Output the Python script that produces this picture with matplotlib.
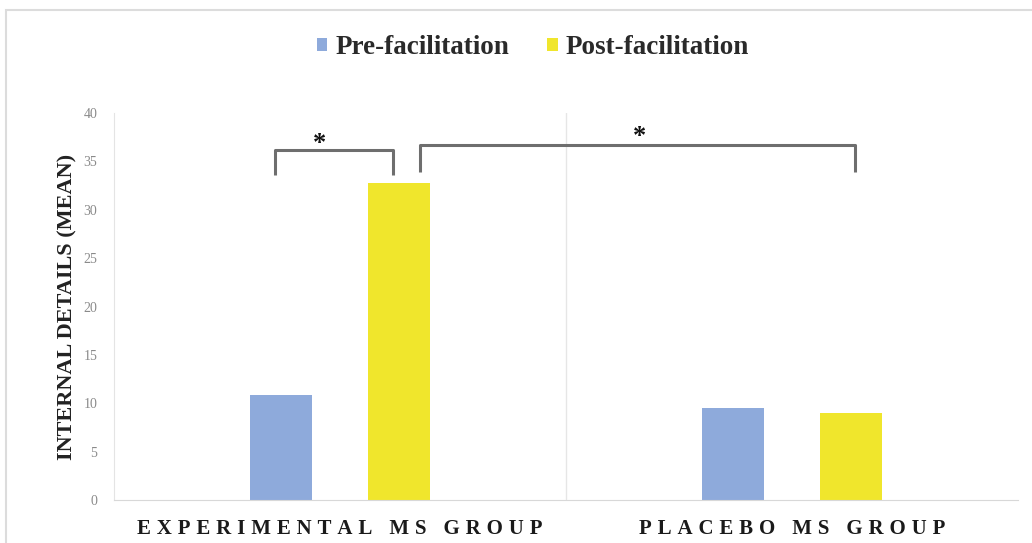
import numpy as np
import matplotlib.pyplot as plt
from matplotlib.patches import Rectangle

groups = ['EXPERIMENTAL MS GROUP', 'PLACEBO MS GROUP']
series = ['Pre-facilitation', 'Post-facilitation']
pre_vals = [10.9, 9.5]
post_vals = [32.8, 9.0]
yticks = [0, 5, 10, 15, 20, 25, 30, 35, 40]

blue = '#8eaadb'
yellow = '#f0e62c'

plt.rcParams['font.family'] = ['Liberation Serif', 'DejaVu Serif']

fig = plt.figure(figsize=(10.32, 5.43), dpi=100)
ax = fig.add_axes([114/1032, 1-500/543, (1018-114)/1032, (500-113)/543])

x = np.arange(len(groups))
off = 0.13
w = 0.137
ax.bar(x - off, pre_vals, w, color=blue, label=series[0])
ax.bar(x + off, post_vals, w, color=yellow, label=series[1])

ax.set_xlim(-0.5, 1.5)
ax.set_ylim(0, 40)
ax.set_yticks(yticks)
ax.tick_params(axis='y', length=0, labelsize=10, labelcolor='#8a8a8a', pad=12)
ax.tick_params(axis='x', length=0, pad=14)
ax.set_xticks(x)
spaced = ['\u2009\u200a'.join(g) for g in groups]
ax.set_xticklabels(spaced, fontsize=15, fontweight='bold', color='#1a1a1a')
for s in ['top', 'right']:
    ax.spines[s].set_visible(False)
ax.spines['left'].set_color('#e4e4e4')
ax.spines['bottom'].set_color('#d8d8d8')
ax.axvline(0.5, color='#e6e6e6', lw=1)

ax.set_ylabel('INTERNAL DETAILS (MEAN)', fontsize=16, fontweight='bold', color='#222222', labelpad=4)

# significance brackets
bc = '#6e6e6e'
ax.plot([-0.144, -0.144, 0.117, 0.117], [33.6, 36.2, 36.2, 33.6], color=bc, lw=2.2, solid_capstyle='butt')
ax.plot([0.177, 0.177, 1.139, 1.139], [33.9, 36.7, 36.7, 33.9], color=bc, lw=2.2, solid_capstyle='butt')
ax.text(-0.045, 35.7, '*', ha='center', va='bottom', fontsize=19, fontweight='bold', color='#111111')
ax.text(0.663, 36.4, '*', ha='center', va='bottom', fontsize=19, fontweight='bold', color='#111111')

leg = fig.legend(loc='center', bbox_to_anchor=(533/1032, 1-48/543), ncol=2, frameon=False,
                 prop={'size': 19.5, 'weight': 'bold'}, handlelength=0.38, handleheight=0.38,
                 handletextpad=0.3, columnspacing=1.4)
for t in leg.get_texts():
    t.set_color('#2a2a2a')

fig.patches.append(Rectangle((6/1032, -0.01), 1.02, 1 - 10/543 + 0.01, transform=fig.transFigure,
                             fill=False, edgecolor='#dcdcdc', lw=1.5))

fig.savefig('out.png', dpi=100, facecolor='white')
